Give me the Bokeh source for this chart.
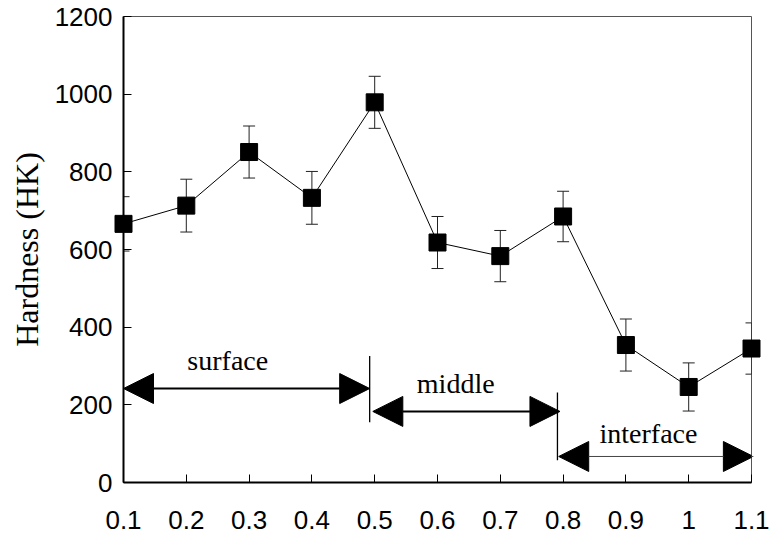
from bokeh.plotting import figure
from bokeh.models import (ColumnDataSource, Whisker, TeeHead, Arrow, NormalHead,
                          Label, FixedTicker, Range1d)
from bokeh.embed import file_html
from bokeh.resources import INLINE

# ---- data ----
depth = [0.1, 0.2, 0.3, 0.4, 0.5, 0.6, 0.7, 0.8, 0.9, 1.0, 1.1]
hardness = [666, 713, 851, 733, 979, 618, 583, 685, 354, 246, 345]
hardness_err = [70, 68, 67, 68, 67, 67, 66, 65, 67, 62, 66]

x_ticks = [0.1, 0.2, 0.3, 0.4, 0.5, 0.6, 0.7, 0.8, 0.9, 1.0, 1.1]
x_tick_labels = ["0.1", "0.2", "0.3", "0.4", "0.5", "0.6", "0.7", "0.8", "0.9", "1", "1.1"]
y_ticks = [0, 200, 400, 600, 800, 1000, 1200]

# zone annotations (data units)
zone_names = ["surface", "middle", "interface"]
zone_x0 = [0.1, 0.497, 0.793]
zone_x1 = [0.492, 0.795, 1.103]
zone_arrow_y = [242, 183, 67]
zone_label_x = [0.266, 0.629, 0.936]
zone_label_y = [313, 255, 125]
boundary_x = [0.492, 0.791]
boundary_y0 = [155, 57]
boundary_y1 = [326, 232]

# ---- figure ----
p = figure(width=770, height=535, output_backend="svg", toolbar_location=None,
           x_range=Range1d(0.1, 1.1), y_range=Range1d(0, 1200),
           min_border_left=123, min_border_right=19, min_border_top=16, min_border_bottom=53)
p.grid.visible = False
p.background_fill_color = "white"
p.border_fill_color = "white"
p.outline_line_color = "#555555"
p.outline_line_width = 1

sans = "Liberation Sans"
serif = "Liberation Serif"

for ax in (p.xaxis[0], p.yaxis[0]):
    ax.axis_line_width = 2
    ax.axis_line_color = "black"
    ax.major_tick_in = 8
    ax.major_tick_out = 0
    ax.major_tick_line_width = 1
    ax.major_tick_line_color = "black"
    ax.minor_tick_in = 0
    ax.minor_tick_out = 0
    ax.major_label_text_font = sans
    ax.major_label_text_font_size = "26px"
    ax.major_label_text_color = "black"

p.xaxis.ticker = FixedTicker(ticks=x_ticks)
p.xaxis.major_label_overrides = {t: l for t, l in zip(x_ticks, x_tick_labels)}
p.xaxis.major_label_standoff = 28

p.yaxis.ticker = FixedTicker(ticks=y_ticks)
p.yaxis.major_label_standoff = 11
p.yaxis.axis_label = "Hardness (HK)"
p.yaxis.axis_label_text_font = serif
p.yaxis.axis_label_text_font_style = "normal"
p.yaxis.axis_label_text_font_size = "32px"
p.yaxis.axis_label_text_color = "black"
p.yaxis.axis_label_standoff = 7

src = ColumnDataSource(dict(
    x=depth, y=hardness,
    upper=[h + e for h, e in zip(hardness, hardness_err)],
    lower=[h - e for h, e in zip(hardness, hardness_err)],
))

p.add_layout(Whisker(source=src, base="x", upper="upper", lower="lower",
                     line_color="#222222", line_width=1,
                     upper_head=TeeHead(size=12, line_color="#222222", line_width=1),
                     lower_head=TeeHead(size=12, line_color="#222222", line_width=1)))

p.line("x", "y", source=src, line_color="black", line_width=1)
p.scatter("x", "y", source=src, marker="square", size=17,
          fill_color="black", line_color="black", level="overlay")

# zone arrows
arrow_widths = [2, 2, 1]
arrow_colors = ["black", "black", "#444444"]
for x0, x1, ya, lw, c in zip(zone_x0, zone_x1, zone_arrow_y, arrow_widths, arrow_colors):
    p.add_layout(Arrow(x_start=x0, y_start=ya, x_end=x1, y_end=ya,
                       line_width=lw, line_color=c,
                       start=NormalHead(size=30, fill_color="black", line_color="black", line_width=1),
                       end=NormalHead(size=30, fill_color="black", line_color="black", line_width=1)))

bsrc = ColumnDataSource(dict(x0=boundary_x, y0=boundary_y0, x1=boundary_x, y1=boundary_y1))
p.segment(x0="x0", y0="y0", x1="x1", y1="y1", source=bsrc, line_color="black", line_width=1.3)

for name, lx, ly in zip(zone_names, zone_label_x, zone_label_y):
    p.add_layout(Label(x=lx, y=ly, text=name, text_align="center", text_baseline="alphabetic",
                       text_font=serif, text_font_size="28px", text_color="black"))

open("out.html", "w").write(file_html(p, INLINE))
